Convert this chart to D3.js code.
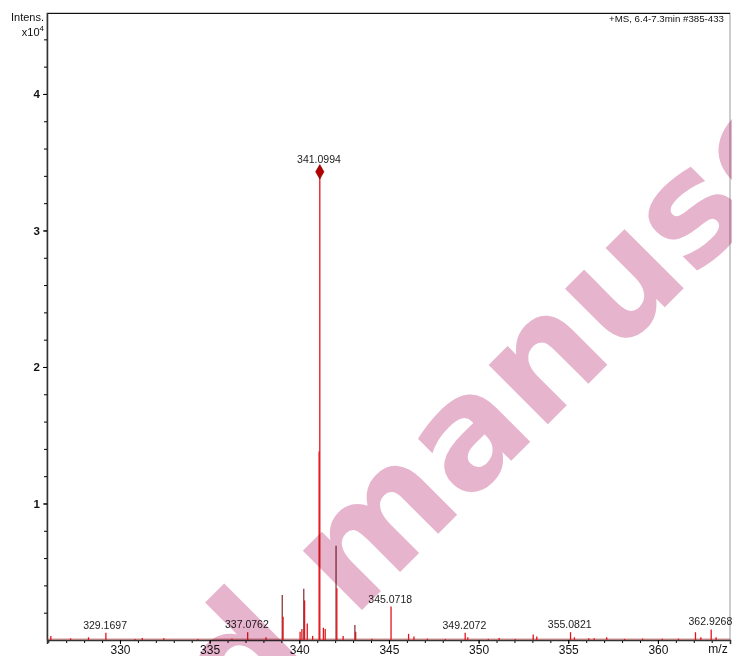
<!DOCTYPE html>
<html lang="en">
<head>
    <meta charset="utf-8">
    <title>Mass spectrum</title>
    <script type="text/javascript" src="https://d3js.org/d3.v7.min.js"></script>
    <style type="text/css">
        body { margin: 0; background: #fff; }
        text { font-family: "Liberation Sans", Arial, sans-serif; fill: #111; }
        .wm { mix-blend-mode: multiply; }
        .wm text { font-family: "DejaVu Sans", sans-serif; font-weight: bold; font-size: 153px; fill: #e6b4cd; }
    </style>
</head>
<body>
<svg width="732" height="656"></svg>
<script type="text/javascript">

    // ---- data (intensity in units of 10^4) ----
    // dark profile trace
    const darkMz  = [339.05, 340.25, 342.05, 343.1];
    const darkInt = [0.33, 0.375, 0.69, 0.11];

    // red line spectrum
    const redMz  = [326.1, 327.2, 328.2, 329.1697, 330.8, 331.2, 332.4, 334.3, 336.2, 337.0762, 338.1,
                    339.05, 340.0, 340.1, 340.25, 340.4, 340.7, 341.0994, 341.06, 341.3, 341.4,
                    342.05, 342.4, 343.1, 344.0, 345.0718, 346.05, 346.35, 347.1, 348.1,
                    349.2072, 349.35, 350.5, 351.1, 352.0, 353.0, 353.2, 355.0821, 355.3,
                    356.1, 356.4, 357.1, 358.1, 359.1, 360.2, 361.1, 362.05, 362.35, 362.9268, 363.2];
    const redInt = [0.03, 0.012, 0.02, 0.053, 0.008, 0.015, 0.012, 0.008, 0.01, 0.057, 0.02,
                    0.17, 0.06, 0.08, 0.29, 0.12, 0.03, 3.43, 1.38, 0.09, 0.08,
                    0.38, 0.03, 0.06, 0.01, 0.245, 0.045, 0.025, 0.01, 0.008,
                    0.053, 0.02, 0.008, 0.015, 0.008, 0.04, 0.025, 0.057, 0.02,
                    0.012, 0.012, 0.02, 0.008, 0.01, 0.01, 0.01, 0.057, 0.02, 0.077, 0.02];

    // annotated peaks
    const labelMz  = [329.1697, 337.0762, 341.0994, 345.0718, 349.2072, 355.0821, 362.9268];
    const labelInt = [0.053, 0.057, 3.43, 0.245, 0.053, 0.057, 0.077];
    const baseMz = 341.0994;

    const xMajor = [330, 335, 340, 345, 350, 355, 360];
    const yMajor = [1, 2, 3, 4];
    const header = "+MS, 6.4-7.3min #385-433";

    const svg = d3.select("svg");
    const pLeft = 47, pTop = 13, pRight = 730, pBottom = 640;

    const x = d3.scaleLinear().domain([325.93, 364.02]).range([pLeft, pRight]);
    const y = d3.scaleLinear().domain([0, 4.593]).range([pBottom, pTop]);

    // frame
    svg.append("rect")
        .attr("x", pLeft).attr("y", pTop)
        .attr("width", pRight - pLeft).attr("height", pBottom - pTop)
        .attr("fill", "none").attr("stroke", "#999").attr("stroke-width", 1);
    svg.append("line")
        .attr("x1", pLeft).attr("x2", pRight).attr("y1", pTop + 0.5).attr("y2", pTop + 0.5)
        .attr("stroke", "#111");
    svg.append("line")
        .attr("x1", pLeft + 0.5).attr("x2", pLeft + 0.5).attr("y1", pTop).attr("y2", pBottom)
        .attr("stroke", "#333").attr("stroke-width", 1.5);

    // x axis
    const xMinor = d3.range(326, 364, 1);
    svg.append("g")
        .attr("transform", `translate(0,${pBottom})`)
        .call(d3.axisBottom(x).tickValues(xMinor).tickSize(3).tickFormat(""))
        .call(g => g.select(".domain").remove());
    const xAx = svg.append("g")
        .attr("transform", `translate(0,${pBottom})`)
        .call(d3.axisBottom(x).tickValues(xMajor).tickSize(4).tickPadding(1).tickFormat(d3.format("d")));
    xAx.select(".domain").attr("stroke", "#333").attr("stroke-width", 1.5);
    xAx.selectAll("text").style("font-size", "12px");
    svg.append("text")
        .attr("x", 718).attr("y", 653).attr("text-anchor", "middle")
        .style("font-size", "12px").text("m/z");

    // y axis
    const yMinor = d3.range(0.2, 4.5, 0.2);
    svg.append("g")
        .attr("transform", `translate(${pLeft},0)`)
        .call(d3.axisLeft(y).tickValues(yMinor).tickSize(3).tickFormat(""))
        .call(g => g.select(".domain").remove());
    const yAx = svg.append("g")
        .attr("transform", `translate(${pLeft},0)`)
        .call(d3.axisLeft(y).tickValues(yMajor).tickSize(4).tickPadding(3).tickFormat(d3.format("d")));
    yAx.select(".domain").remove();
    yAx.selectAll("text").style("font-size", "11.5px").style("font-weight", "bold");

    svg.append("text").attr("x", 44).attr("y", 21).attr("text-anchor", "end")
        .style("font-size", "11px").text("Intens.");
    const xt = svg.append("text").attr("x", 44).attr("y", 36).attr("text-anchor", "end")
        .style("font-size", "11px");
    xt.append("tspan").text("x10");
    xt.append("tspan").attr("dy", -5).style("font-size", "8px").text("4");

    svg.append("text").attr("x", 724).attr("y", 22).attr("text-anchor", "end")
        .style("font-size", "9.7px").text(header);

    // baseline
    svg.append("line")
        .attr("x1", pLeft).attr("x2", pRight).attr("y1", pBottom - 1).attr("y2", pBottom - 1)
        .attr("stroke", "#c44").attr("stroke-width", 1).attr("opacity", 0.6);

    // spectra
    svg.append("g").selectAll("line")
        .data(d3.zip(darkMz, darkInt))
        .join("line")
        .attr("x1", d => x(d[0])).attr("x2", d => x(d[0]))
        .attr("y1", y(0)).attr("y2", d => y(d[1]))
        .attr("stroke", "#8a3a3e").attr("stroke-width", 1.3);

    svg.append("g").selectAll("line")
        .data(d3.zip(redMz, redInt))
        .join("line")
        .attr("x1", d => x(d[0]) + 0.8).attr("x2", d => x(d[0]) + 0.8)
        .attr("y1", y(0)).attr("y2", d => y(d[1]))
        .attr("stroke", "#e3141c").attr("stroke-width", 1.3);

    // base peak marker
    svg.append("path")
        .attr("d", d3.symbol(d3.symbolDiamond, 60)())
        .attr("transform", `translate(${x(baseMz) + 0.8},${y(3.43)})`)
        .attr("fill", "#b40000").attr("stroke", "#7a0000").attr("stroke-width", 0.6);

    // peak labels
    svg.append("g").selectAll("text")
        .data(d3.zip(labelMz, labelInt))
        .join("text")
        .attr("x", d => x(d[0]))
        .attr("y", d => y(d[1]) - (d[0] === baseMz ? 9 : 4))
        .attr("text-anchor", "middle")
        .style("font-size", "10.5px").style("fill", "#222")
        .text(d => d[0].toFixed(4));

    // watermark, blended over the plot
    const wm = svg.append("g").attr("class", "wm")
        .attr("transform", "translate(353,619) rotate(-45)");
    wm.append("text").attr("x", -53).attr("text-anchor", "end").text("Accepted");
    wm.append("text").attr("x", 0).text("manuscript");

</script>
</body>
</html>
